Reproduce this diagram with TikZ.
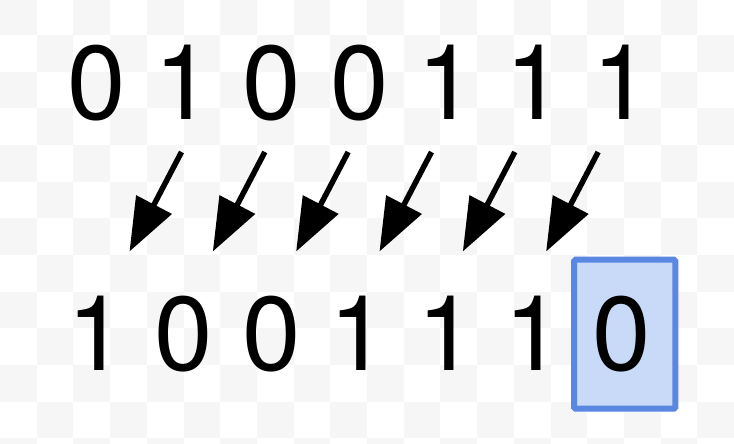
\documentclass[tikz,border=0pt]{standalone}
\usepackage{fontspec}
\setmainfont{TeX Gyre Heros}
\usetikzlibrary{arrows.meta}
\definecolor{checker}{HTML}{F6F6F6}
\definecolor{boxfill}{HTML}{C9DAF8}
\definecolor{boxline}{HTML}{5A87E2}
\begin{document}
\begin{tikzpicture}[x=1pt,y=-1pt,
  digits/.style={inner sep=0pt, anchor=base west, font=\fontsize{105}{110}\selectfont},
  shiftarrow/.style={line width=5.5pt, -{Triangle[length=53pt,width=39pt]}},
  selbox/.style={draw=boxline, fill=boxfill, line width=6pt, rounded corners=1.5pt, inner sep=0pt}]
\useasboundingbox (0,0) rectangle (734,444);
\clip (0,0) rectangle (734,444);
\fill[white] (0,0) rectangle (734,444);
\foreach \i in {0,...,19} {
  \foreach \j in {0,...,12} {
    \pgfmathtruncatemacro\myparity{mod(\i+\j,2)}
    \ifnum\myparity=0
      \fill[checker] ({\i*36.7},{-1.7+\j*36.67}) rectangle ++(36.7,36.67);
    \fi
  }
}
\node[selbox, minimum width=101.3pt, minimum height=149pt] (sel) at (624.7,334.2) {};
\node[digits] (toprow) at (67.2,120) {0 1 0 0 1 1 1};
\node[digits] (botrow) at (66.9,370.5) {1 0 0 1 1 1 0};
\foreach \i in {0,...,5} {
  \coordinate (t\i) at ({181.5+83.33*\i},152);
  \coordinate (h\i) at ({129.5+83.33*\i},251.5);
  \draw[shiftarrow] (t\i) -- (h\i);
}
\end{tikzpicture}
\end{document}
